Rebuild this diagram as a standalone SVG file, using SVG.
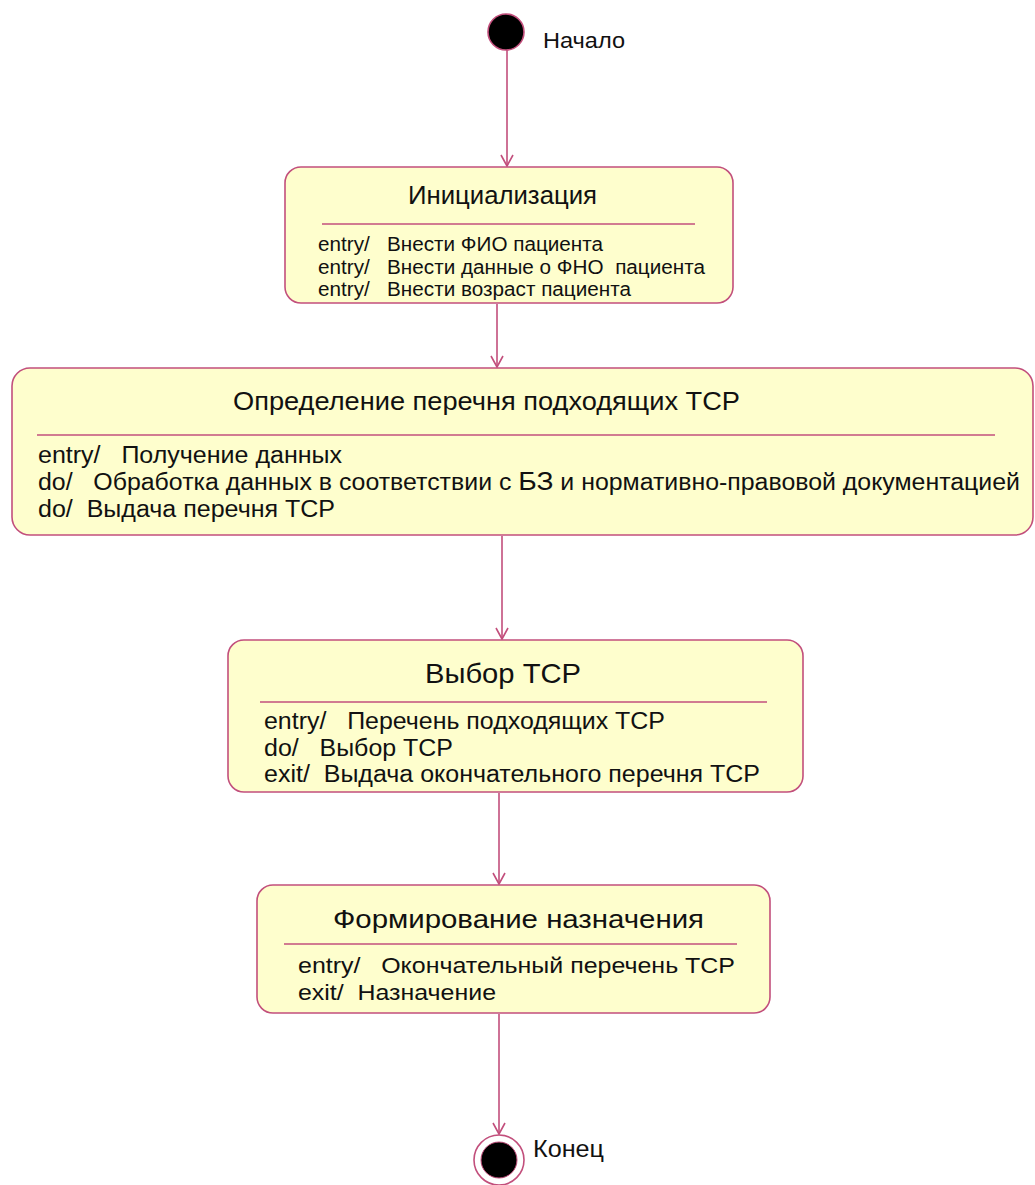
<svg xmlns="http://www.w3.org/2000/svg" width="1035" height="1185" viewBox="0 0 1035 1185" xml:space="preserve">
  <style>
    .state { fill: #fefecd; stroke: #c24f7c; stroke-width: 1.6; }
    .sep { stroke: #c24f7c; stroke-width: 1.4; }
    .flow { stroke: #c24f7c; stroke-width: 1.6; fill: none; }
    .txt { font-family: "Liberation Sans", Arial, sans-serif; fill: #111; white-space: pre; }
    .title { text-anchor: middle; }
  </style>
  <defs>
    <marker id="open-arrow" markerWidth="14" markerHeight="14" refX="12" refY="7" orient="auto" markerUnits="userSpaceOnUse">
      <path d="M1,1 L12,7 L1,13" fill="none" stroke="#c24f7c" stroke-width="1.6"/>
    </marker>
  </defs>

  <!-- transitions -->
  <g id="connectors">
    <line class="flow" x1="507" y1="50" x2="507" y2="166" marker-end="url(#open-arrow)"/>
    <line class="flow" x1="497" y1="304" x2="497" y2="367" marker-end="url(#open-arrow)"/>
    <line class="flow" x1="502" y1="536" x2="502" y2="639" marker-end="url(#open-arrow)"/>
    <line class="flow" x1="499" y1="793" x2="499" y2="884" marker-end="url(#open-arrow)"/>
    <line class="flow" x1="499" y1="1014" x2="499" y2="1134" marker-end="url(#open-arrow)"/>
  </g>

  <!-- initial pseudostate -->
  <g id="start">
    <circle cx="506" cy="32" r="18" fill="#000" stroke="#c24f7c" stroke-width="1.6"/>
    <text class="txt" x="543" y="48" font-size="22" textLength="82" lengthAdjust="spacingAndGlyphs">Начало</text>
  </g>

  <g id="init">
    <rect class="state" x="285" y="167" width="448" height="136" rx="16"/>
    <text class="txt title" x="502.5" y="204" font-size="25" textLength="189" lengthAdjust="spacingAndGlyphs">Инициализация</text>
    <line class="sep" x1="322" y1="224" x2="695" y2="224"/>
    <text class="txt" x="318" y="251" font-size="20" textLength="285" lengthAdjust="spacingAndGlyphs">entry/   Внести ФИО пациента</text>
    <text class="txt" x="318" y="274" font-size="20" textLength="387" lengthAdjust="spacingAndGlyphs">entry/   Внести данные о ФНО  пациента</text>
    <text class="txt" x="318" y="296" font-size="20" textLength="313" lengthAdjust="spacingAndGlyphs">entry/   Внести возраст пациента</text>
  </g>

  <g id="define-list">
    <rect class="state" x="12" y="368" width="1021" height="167" rx="18"/>
    <text class="txt title" x="486.5" y="410" font-size="25" textLength="507" lengthAdjust="spacingAndGlyphs">Определение перечня подходящих ТСР</text>
    <line class="sep" x1="37" y1="435" x2="995" y2="435"/>
    <text class="txt" x="38" y="463" font-size="23" textLength="304" lengthAdjust="spacingAndGlyphs">entry/   Получение данных</text>
    <text class="txt" x="38" y="490" font-size="23" textLength="982" lengthAdjust="spacingAndGlyphs">do/   Обработка данных в соответствии с <tspan font-size="26">БЗ</tspan> и нормативно-правовой документацией</text>
    <text class="txt" x="38" y="517" font-size="23" textLength="297" lengthAdjust="spacingAndGlyphs">do/  Выдача перечня ТСР</text>
  </g>

  <g id="choose">
    <rect class="state" x="228" y="640" width="575" height="152" rx="16"/>
    <text class="txt title" x="503" y="683" font-size="28" textLength="156" lengthAdjust="spacingAndGlyphs">Выбор ТСР</text>
    <line class="sep" x1="260" y1="702" x2="767" y2="702"/>
    <text class="txt" x="264" y="729" font-size="23" textLength="401" lengthAdjust="spacingAndGlyphs">entry/   Перечень подходящих ТСР</text>
    <text class="txt" x="264" y="756" font-size="23" textLength="189" lengthAdjust="spacingAndGlyphs">do/   Выбор ТСР</text>
    <text class="txt" x="264" y="782" font-size="23" textLength="496" lengthAdjust="spacingAndGlyphs">exit/  Выдача окончательного перечня ТСР</text>
  </g>

  <g id="prescribe">
    <rect class="state" x="257" y="885" width="513" height="128" rx="16"/>
    <text class="txt title" x="518.5" y="928" font-size="25" textLength="371" lengthAdjust="spacingAndGlyphs">Формирование назначения</text>
    <line class="sep" x1="284" y1="944" x2="737" y2="944"/>
    <text class="txt" x="298" y="973" font-size="22" textLength="437" lengthAdjust="spacingAndGlyphs">entry/   Окончательный перечень ТСР</text>
    <text class="txt" x="298" y="1000" font-size="22" textLength="198" lengthAdjust="spacingAndGlyphs">exit/  Назначение</text>
  </g>

  <!-- final state -->
  <g id="end">
    <circle cx="499" cy="1160" r="25" fill="#fff" stroke="#c24f7c" stroke-width="1.6"/>
    <circle cx="499" cy="1160" r="18" fill="#000" stroke="#c24f7c" stroke-width="1"/>
    <text class="txt" x="533" y="1157" font-size="23" textLength="71" lengthAdjust="spacingAndGlyphs">Конец</text>
  </g>
</svg>
